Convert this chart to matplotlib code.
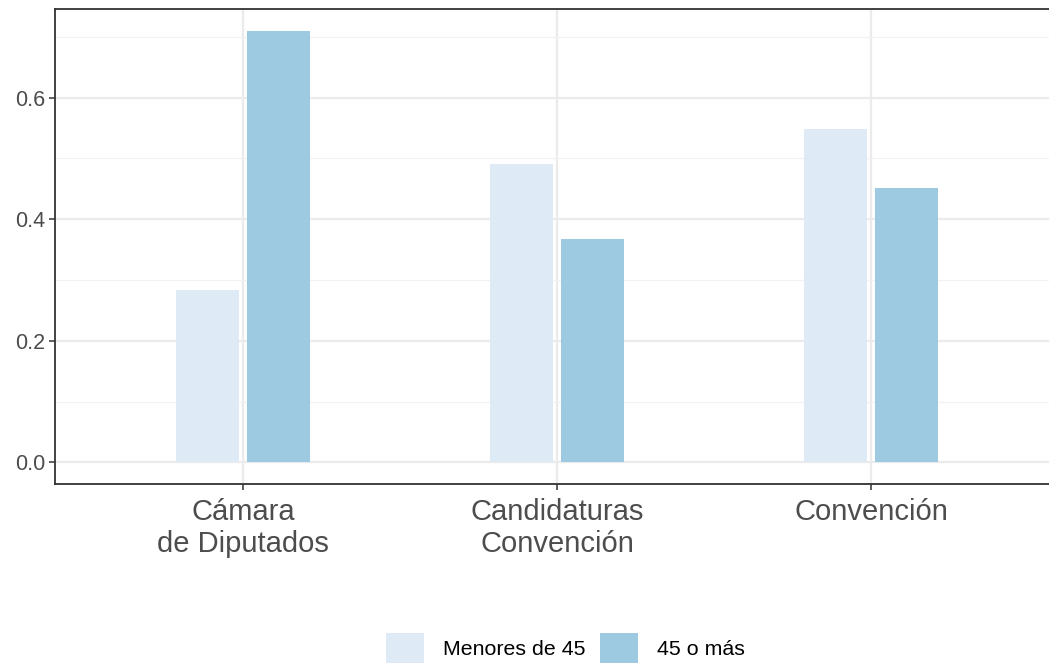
import numpy as np
import matplotlib
matplotlib.use('Agg')
import matplotlib.pyplot as plt
import matplotlib.patches as mpatches
from matplotlib.ticker import MultipleLocator

plt.rcParams['font.family'] = ['Liberation Sans', 'DejaVu Sans']

# ── Datos ────────────────────────────────────────────────────────────────────
categorias = ['Cámara\nde Diputados', 'Candidaturas\nConvención', 'Convención']
menores_45 = [0.284, 0.490, 0.549]
mayores_45 = [0.710, 0.367, 0.451]
grupos = ['Menores de 45', '45 o más']
colores = ['#DEEBF7', '#9ECAE1']

# ── Figura ───────────────────────────────────────────────────────────────────
fig = plt.figure(figsize=(10.49, 6.68), dpi=100)
ax = fig.add_axes([0.0524, 0.2754, 0.9578, 0.711])

x = np.arange(1, len(categorias) + 1)
ancho = 0.2
desp = 0.113
ax.bar(x - desp, menores_45, width=ancho, color=colores[0], zorder=3)
ax.bar(x + desp, mayores_45, width=ancho, color=colores[1], zorder=3)

ax.set_xlim(0.4, 3.6)
ax.set_ylim(-0.0355, 0.7455)
ax.set_xticks(x)
ax.set_xticklabels(categorias, fontsize=21, color='#4D4D4D', linespacing=1.2)
ax.yaxis.set_minor_locator(MultipleLocator(0.1))
ax.set_yticks([0.0, 0.2, 0.4, 0.6])
ax.set_yticklabels(['0.0', '0.2', '0.4', '0.6'], fontsize=15.5, color='#4D4D4D')

# grilla estilo theme_bw
ax.grid(True, which='major', color='#EBEBEB', linewidth=1.6, zorder=0)
ax.grid(True, which='minor', axis='y', color='#F2F2F2', linewidth=0.9, zorder=0)
ax.tick_params(which='major', length=4, width=1.1, color='#333333', pad=3)
ax.tick_params(axis='x', which='major', pad=6)
ax.tick_params(which='minor', length=0)
for s in ax.spines.values():
    s.set_edgecolor('#333333')
    s.set_linewidth(1.3)

# ── Leyenda ──────────────────────────────────────────────────────────────────
handles = [mpatches.Patch(facecolor=c, edgecolor='none', label=g)
           for c, g in zip(colores, grupos)]
fig.legend(handles=handles, loc='center', bbox_to_anchor=(0.539, 0.03),
           ncol=2, frameon=False, fontsize=15.4, handlelength=1.8,
           handleheight=1.75, handletextpad=0.9, columnspacing=0.65,
           borderaxespad=0, borderpad=0)

plt.savefig('out.png', dpi=100)
